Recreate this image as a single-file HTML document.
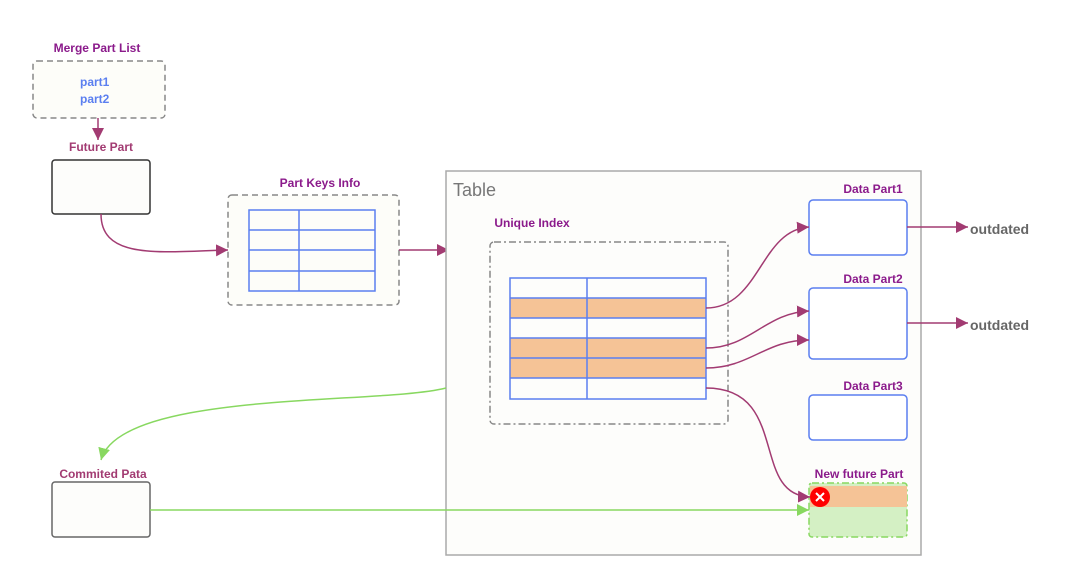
<!DOCTYPE html>
<html><head><meta charset="utf-8"><style>
html,body{margin:0;padding:0;background:#fff;width:1080px;height:581px;overflow:hidden}
svg text{font-family:"Liberation Sans",sans-serif;font-weight:bold}
</style></head><body>
<svg width="1080" height="581" viewBox="0 0 1080 581" xmlns="http://www.w3.org/2000/svg">
<defs>
<marker id="ap" viewBox="0 0 10 10" refX="10" refY="5" markerWidth="12" markerHeight="12" markerUnits="userSpaceOnUse" orient="auto"><path d="M0,0 L10,5 L0,10 z" fill="#a23b72"/></marker>
<marker id="ag" viewBox="0 0 10 10" refX="10" refY="5" markerWidth="12" markerHeight="12" markerUnits="userSpaceOnUse" orient="auto"><path d="M0,0 L10,5 L0,10 z" fill="#88d860"/></marker>
</defs>
<!-- Merge Part List -->
<text x="97" y="52" font-size="12" fill="#8b1a8b" text-anchor="middle">Merge Part List</text>
<rect x="33" y="61" width="132" height="57" rx="4" fill="#fdfdf9" stroke="#888" stroke-width="1.5" stroke-dasharray="6,4"/>
<text x="80" y="86" font-size="12" fill="#5b7ff0">part1</text>
<text x="80" y="103" font-size="12" fill="#5b7ff0">part2</text>
<line x1="98" y1="118" x2="98" y2="140" stroke="#a23b72" stroke-width="1.5" marker-end="url(#ap)"/>
<text x="101" y="151" font-size="12" fill="#a23b72" text-anchor="middle">Future Part</text>
<rect x="52" y="160" width="98" height="54" rx="3" fill="#fdfdfb" stroke="#333" stroke-width="1.5"/>
<path d="M101,214 C101,260 160,252 228,250" fill="none" stroke="#a23b72" stroke-width="1.5" marker-end="url(#ap)"/>
<!-- Part Keys Info -->
<text x="320" y="187" font-size="12" fill="#8b1a8b" text-anchor="middle">Part Keys Info</text>
<rect x="228" y="195" width="171" height="110" rx="4" fill="#fdfdf9" stroke="#888" stroke-width="1.5" stroke-dasharray="6,4"/>
<g stroke="#5b7ff0" stroke-width="1.5" fill="none">
<rect x="249" y="210" width="126" height="81"/>
<line x1="249" y1="230" x2="375" y2="230"/><line x1="249" y1="250" x2="375" y2="250"/><line x1="249" y1="271" x2="375" y2="271"/>
<line x1="299" y1="210" x2="299" y2="291"/>
</g>
<line x1="399" y1="250" x2="449" y2="250" stroke="#a23b72" stroke-width="1.5" marker-end="url(#ap)"/>
<!-- Table -->
<rect x="446" y="171" width="475" height="384" fill="#fdfdfb" stroke="#aaa" stroke-width="1.5"/>
<text x="453" y="196" font-size="18" font-weight="normal" style="font-weight:normal" fill="#777">Table</text>
<text x="532" y="227" font-size="12" fill="#8b1a8b" text-anchor="middle">Unique Index</text>
<rect x="490" y="242" width="238" height="182" rx="4" fill="none" stroke="#888" stroke-width="1.5" stroke-dasharray="7,3,2,3"/>
<rect x="510" y="298" width="196" height="20" fill="#f5c396"/>
<rect x="510" y="338" width="196" height="40" fill="#f5c396"/>
<g stroke="#5b7ff0" stroke-width="1.5" fill="none">
<rect x="510" y="278" width="196" height="121"/>
<line x1="510" y1="298" x2="706" y2="298"/><line x1="510" y1="318" x2="706" y2="318"/><line x1="510" y1="338" x2="706" y2="338"/><line x1="510" y1="358" x2="706" y2="358"/><line x1="510" y1="378" x2="706" y2="378"/>
<line x1="587" y1="278" x2="587" y2="399"/>
</g>
<!-- Data parts -->
<text x="873" y="193" font-size="12" fill="#8b1a8b" text-anchor="middle">Data Part1</text>
<rect x="809" y="200" width="98" height="55" rx="4" fill="#fff" stroke="#5b7ff0" stroke-width="1.5"/>
<text x="873" y="283" font-size="12" fill="#8b1a8b" text-anchor="middle">Data Part2</text>
<rect x="809" y="288" width="98" height="71" rx="4" fill="#fff" stroke="#5b7ff0" stroke-width="1.5"/>
<text x="873" y="390" font-size="12" fill="#8b1a8b" text-anchor="middle">Data Part3</text>
<rect x="809" y="395" width="98" height="45" rx="4" fill="#fff" stroke="#5b7ff0" stroke-width="1.5"/>
<text x="859" y="478" font-size="12" fill="#8b1a8b" text-anchor="middle">New future Part</text>
<rect x="809" y="483" width="98" height="54" rx="3" fill="#d4f0c4" stroke="#88d860" stroke-width="1.5" stroke-dasharray="7,3,2,3"/>
<rect x="810" y="486" width="97" height="21" fill="#f5c396"/>
<!-- outdated -->
<line x1="907" y1="227" x2="968" y2="227" stroke="#a23b72" stroke-width="1.5" marker-end="url(#ap)"/>
<text x="970" y="234" font-size="14" fill="#666">outdated</text>
<line x1="907" y1="323" x2="968" y2="323" stroke="#a23b72" stroke-width="1.5" marker-end="url(#ap)"/>
<text x="970" y="330" font-size="14" fill="#666">outdated</text>
<!-- curves -->
<g fill="none" stroke="#a23b72" stroke-width="1.5">
<path d="M706,308 C760,308 760,230 809,227" marker-end="url(#ap)"/>
<path d="M706,348 C750,348 765,313 809,311" marker-end="url(#ap)"/>
<path d="M706,368 C750,368 765,340 809,340" marker-end="url(#ap)"/>
<path d="M706,388 C790,388 750,495 810,497" marker-end="url(#ap)"/>
</g>
<circle cx="820" cy="497" r="10" fill="#f00"/>
<path d="M816,493 L824,501 M824,493 L816,501" stroke="#fff" stroke-width="2"/>
<!-- green -->
<path d="M446,388 C380,405 120,390 101,460" fill="none" stroke="#88d860" stroke-width="1.5" marker-end="url(#ag)"/>
<text x="103" y="478" font-size="12" fill="#a23b72" text-anchor="middle">Commited Pata</text>
<rect x="52" y="482" width="98" height="55" rx="3" fill="#fdfdfb" stroke="#666" stroke-width="1.5"/>
<line x1="150" y1="510" x2="809" y2="510" stroke="#88d860" stroke-width="1.5" marker-end="url(#ag)"/>
</svg>
</body></html>
